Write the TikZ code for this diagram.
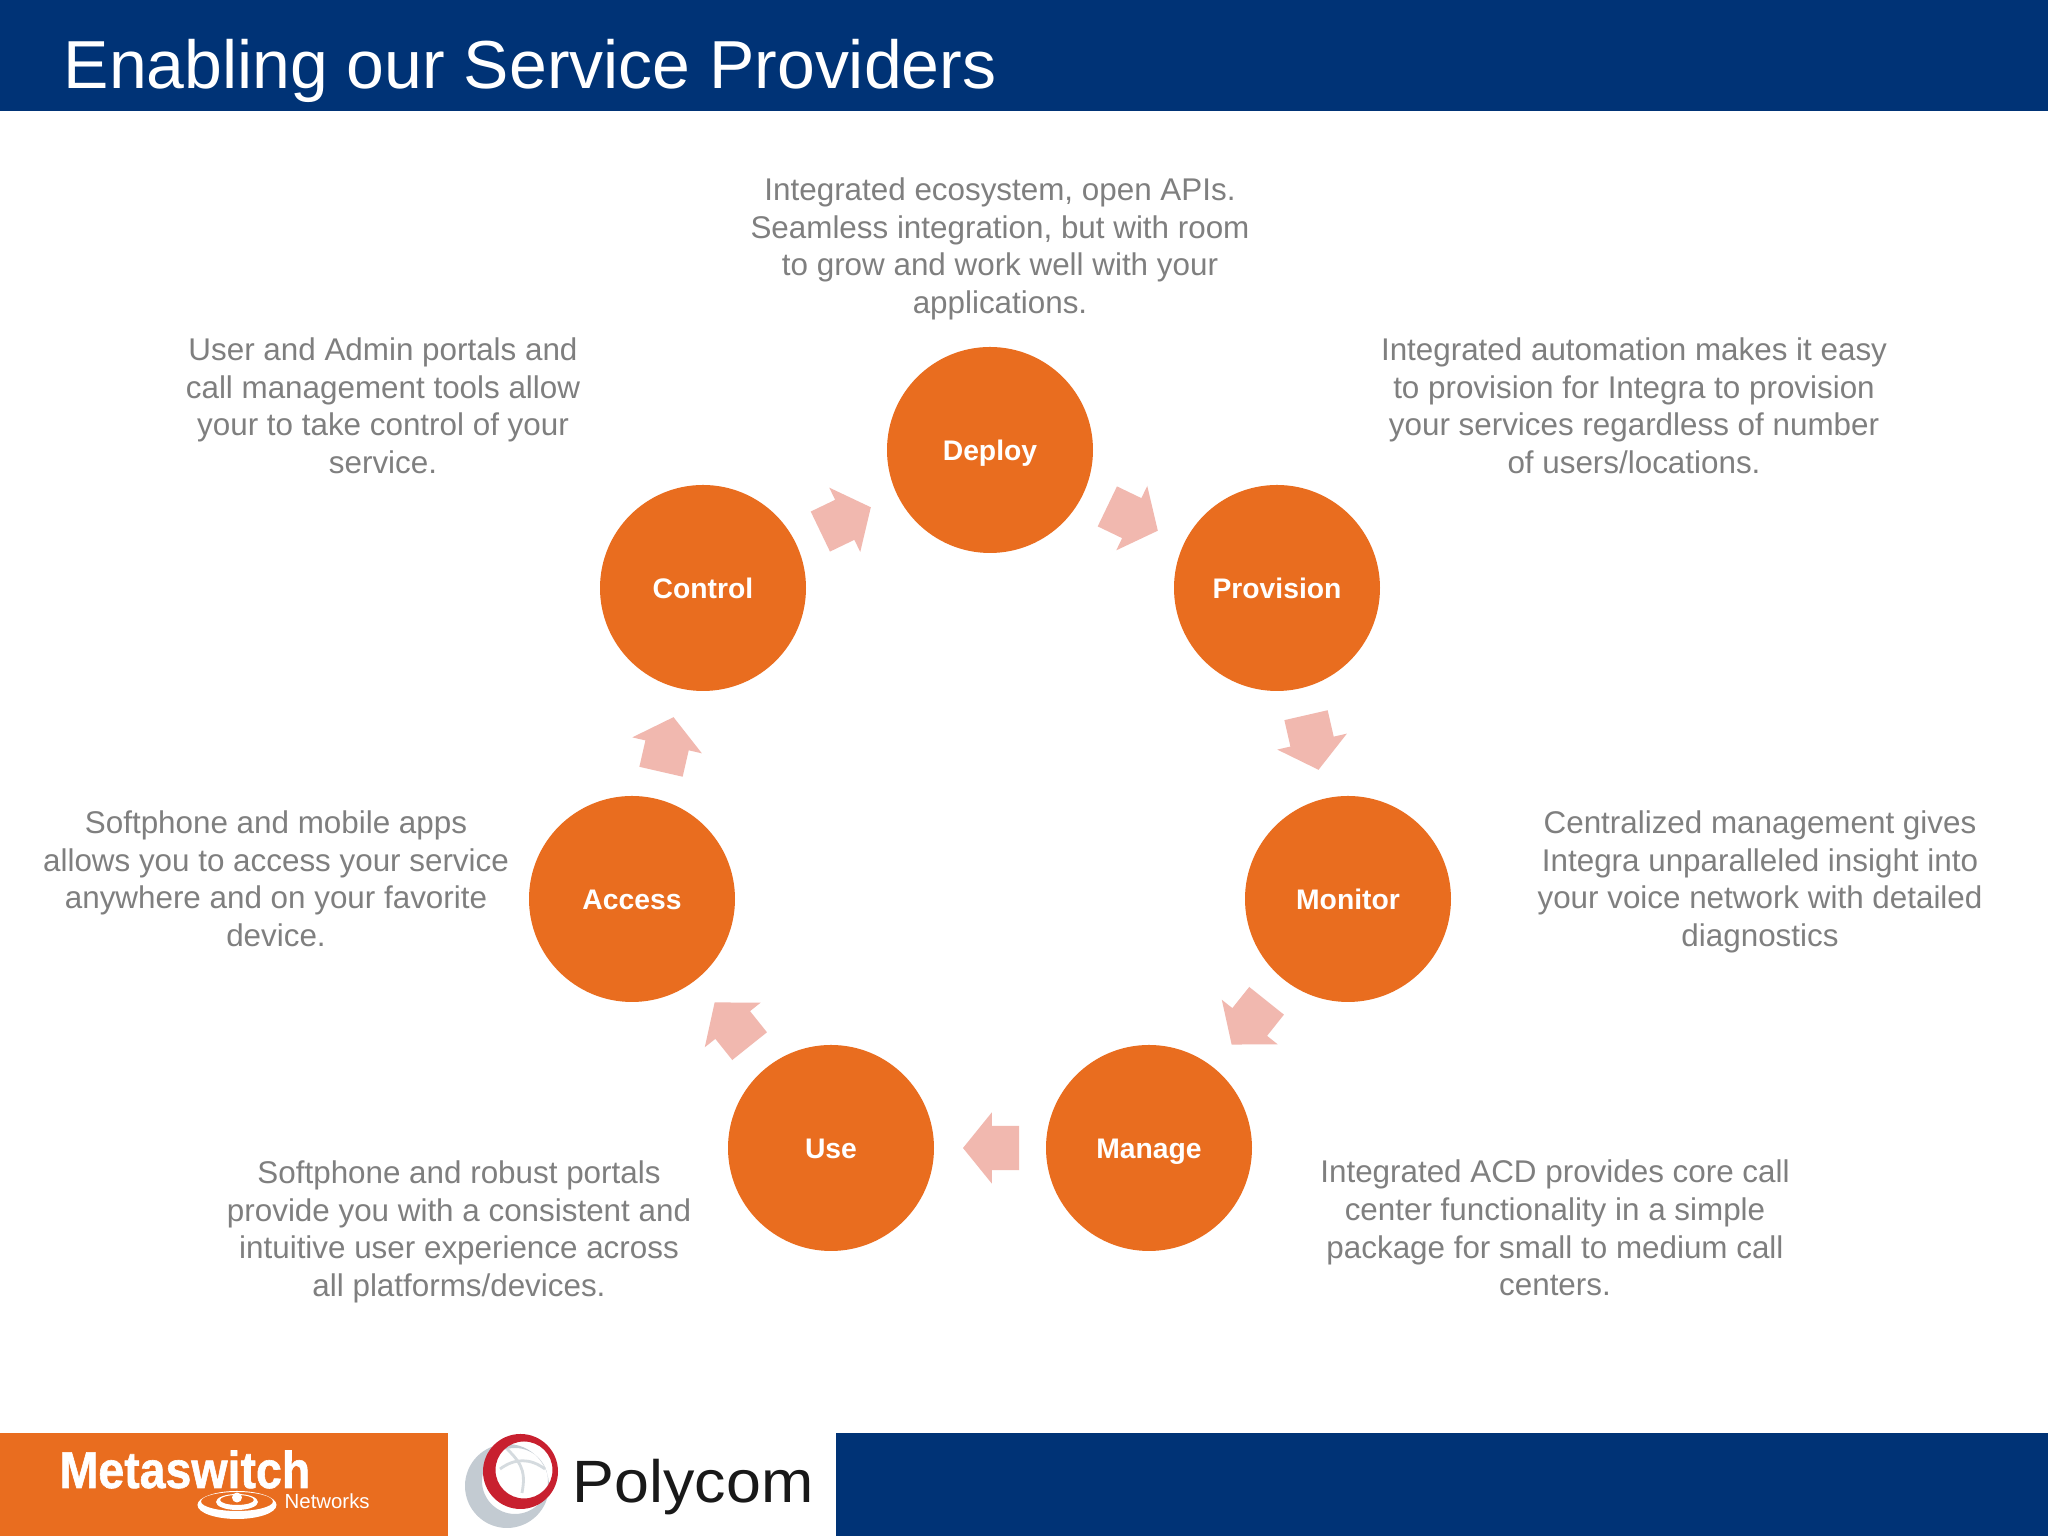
\documentclass[tikz,border=0pt]{standalone}
\usepackage{fontspec}
\setmainfont{Liberation Sans}
\newfontfamily\logofont[BoldFeatures={FakeBold=1.2}]{Liberation Sans}
\usetikzlibrary{calc,shapes.arrows}
\definecolor{bandblue}{HTML}{003376}
\definecolor{stepgold}{HTML}{E96D1F}
\definecolor{arrowpink}{HTML}{F1B8AF}
\definecolor{infogray}{HTML}{7F7F7F}
\definecolor{ringred}{HTML}{C8202F}
\definecolor{ringgray}{HTML}{C3CBD2}
\tikzset{
  stepnode/.style={circle, fill=stepgold, minimum size=2.06cm, inner sep=0pt, text=white,
    text height=7.5pt, text depth=1.5pt, font=\fontsize{8.05}{10}\selectfont\bfseries},
  flowarrow/.style={single arrow, fill=arrowpink, minimum height=0.56cm, inner ysep=0.215cm, inner xsep=0pt,
    single arrow head extend=0.135cm, single arrow tip angle=102, outer sep=0pt, rotate=#1, xshift=-0.1cm},
  infotext/.style={align=center, text=infogray, inner sep=0pt,
    font=\fontsize{8.93}{10.7}\selectfont},
  band/.style={fill=bandblue, draw=none},
}
\begin{document}
\begin{tikzpicture}
  \useasboundingbox (0,0) rectangle (20.48,15.36);
  \fill[white] (0,0) rectangle (20.48,15.36);

  % header and footer
  \fill[band] (0,14.25) rectangle (20.48,15.36);
  \fill[band] (8.36,0) rectangle (20.48,1.03);
  \fill[stepgold] (0,0) rectangle (4.48,1.03);
  \node[anchor=base west, inner sep=0pt, text=white, font=\fontsize{19.33}{24}\selectfont] (title) at (0.63,14.47) {Enabling our Service Providers};

  % steps
  \node[stepnode] (deploy)    at (9.90,10.86) {Deploy};
  \node[stepnode] (provision) at (12.77,9.48) {Provision};
  \node[stepnode] (monitor)   at (13.48,6.37) {Monitor};
  \node[stepnode] (manage)    at (11.49,3.88) {Manage};
  \node[stepnode] (use)       at (8.31,3.88)  {Use};
  \node[stepnode] (access)    at (6.32,6.37)  {Access};
  \node[stepnode] (control)   at (7.03,9.48)  {Control};

  % arrows between the steps
  \node[flowarrow=-25.7]  (deployarrow)    at ($(deploy)!0.5!(provision)$) {};
  \node[flowarrow=-77.1]  (provisionarrow) at ($(provision)!0.5!(monitor)$) {};
  \node[flowarrow=-128.6] (monitorarrow)   at ($(monitor)!0.5!(manage)$) {};
  \node[flowarrow=180]    (managearrow)    at ($(manage)!0.5!(use)$) {};
  \node[flowarrow=128.6]  (usearrow)       at ($(use)!0.5!(access)$) {};
  \node[flowarrow=77.1]   (accessarrow)    at ($(access)!0.5!(control)$) {};
  \node[flowarrow=25.7]   (controlarrow)   at ($(control)!0.5!(deploy)$) {};

  % texts
  \node[infotext] (deployinfo) at (10.00,12.87) {Integrated ecosystem, open APIs.\\Seamless integration, but with room\\to grow and work well with your\\applications.};
  \node[infotext] (provisioninfo) at (16.34,11.30) {Integrated automation makes it easy\\to provision for Integra to provision\\your services regardless of number\\of users/locations.};
  \node[infotext] (monitorinfo) at (17.60,6.54) {Centralized management gives\\Integra unparalleled insight into\\your voice network with detailed\\diagnostics};
  \node[infotext] (manageinfo) at (15.55,3.08) {Integrated ACD provides core call\\center functionality in a simple\\package for small to medium call\\centers.};
  \node[infotext] (useinfo) at (4.59,3.04) {Softphone and robust portals\\provide you with a consistent and\\intuitive user experience across\\all platforms/devices.};
  \node[infotext] (accessinfo) at (2.76,6.57) {Softphone and mobile apps\\allows you to access your service\\anywhere and on your favorite\\device.};
  \node[infotext] (controlinfo) at (3.83,11.30) {User and Admin portals and\\call management tools allow\\your to take control of your\\service.};

  % logos
  \node[anchor=base west, inner sep=0pt, text=white, font=\fontsize{14.7}{15}\logofont\selectfont\bfseries, xscale=0.9, transform shape] (metaswitch) at (0.59,0.48) {Metaswitch};
  \node[anchor=base west, inner sep=0pt, text=white, font=\fontsize{5.8}{6}\selectfont] (networks) at (2.84,0.27) {Networks};
  \fill[white, even odd rule] (2.37,0.31) ellipse (0.395 and 0.14) (2.37,0.345) ellipse (0.36 and 0.095);
  \fill[white, even odd rule] (2.37,0.34) ellipse (0.21 and 0.08) (2.37,0.36) ellipse (0.17 and 0.05);
  \fill[white] (2.37,0.385) circle (0.05);

  \fill[ringgray, even odd rule] (5.07,0.50) circle (0.42) (5.15,0.55) circle (0.33);
  \draw[ringgray!70, line width=0.8pt] (5.00,0.67) .. controls (5.15,0.78) and (5.30,0.78) .. (5.45,0.67);
  \draw[ringgray!70, line width=0.8pt] (5.07,0.87) .. controls (5.25,0.70) and (5.25,0.60) .. (5.22,0.43);
  \fill[ringred, even odd rule] (5.205,0.645) circle (0.375) (5.24,0.66) circle (0.285);
  \node[anchor=base west, inner sep=0pt, text=black!90, font=\fontsize{17}{18}\selectfont, xscale=1.05, transform shape] (polycom) at (5.72,0.33) {Polycom};
\end{tikzpicture}
\end{document}
